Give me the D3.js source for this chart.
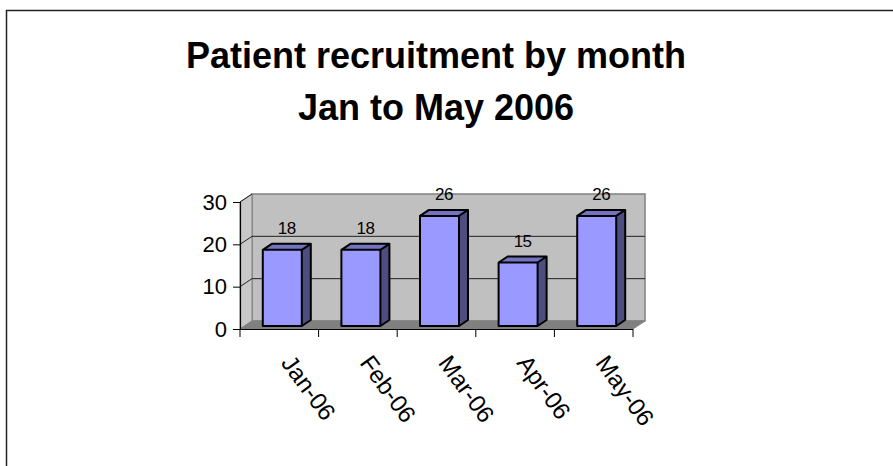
<!DOCTYPE html>
<html>
<head>
<meta charset="utf-8">
<script src="https://cdn.jsdelivr.net/npm/d3@7"></script>
<style>
  body { margin: 0; background: #fff; }
  text { font-family: Arial, "Liberation Sans", sans-serif; }
</style>
</head>
<body>
<div id="chart"></div>
<script>
// data
const months = ['Jan-06', 'Feb-06', 'Mar-06', 'Apr-06', 'May-06'];
const patients = [18, 18, 26, 15, 26];
const yTicks = [0, 10, 20, 30];
const titleLines = ['Patient recruitment by month', 'Jan to May 2006'];

const W = 893, H = 466;
// 3d depth of the plot box and of each bar
const dx = 12, dy = -8;
const bx = 3, by = -3;      // bar front offset from front plane
const bdx = 9, bdy = -6;    // bar depth

var svg = d3.select('#chart').append('svg')
  .attr('width', W)
  .attr('height', H);

// outer frame
svg.append('rect')
  .attr('x', 6.5).attr('y', 10.5)
  .attr('width', W + 20).attr('height', H + 20)
  .attr('fill', '#fff')
  .attr('stroke', '#222')
  .attr('stroke-width', 1.5);

// title
svg.append('g').selectAll('text')
  .data(titleLines)
  .enter().append('text')
  .attr('x', 436)
  .attr('y', (d, i) => 68 + i * 52)
  .attr('text-anchor', 'middle')
  .style('font-size', '36px')
  .style('font-weight', 'bold')
  .text(d => d);

var x = d3.scaleBand()
  .domain(months)
  .range([240, 633])
  .padding(0);

var y = d3.scaleLinear()
  .domain([0, 30])
  .range([329, 202]);

const x0 = x.range()[0], x1 = x.range()[1];
const pts = p => p.map(q => q.join(',')).join(' ');

// back wall
svg.append('polygon')
  .attr('points', pts([[x0 + dx, y(30) + dy], [x1 + dx, y(30) + dy], [x1 + dx, y(0) + dy], [x0 + dx, y(0) + dy]]))
  .attr('fill', '#c0c0c0')
  .attr('stroke', '#808080')
  .attr('stroke-width', 1.5);

// left side wall
svg.append('polygon')
  .attr('points', pts([[x0, y(0)], [x0, y(30)], [x0 + dx, y(30) + dy], [x0 + dx, y(0) + dy]]))
  .attr('fill', '#c8c8c8')
  .attr('stroke', '#808080')
  .attr('stroke-width', 1);

// floor
svg.append('polygon')
  .attr('points', pts([[x0, y(0)], [x1, y(0)], [x1 + dx, y(0) + dy], [x0 + dx, y(0) + dy]]))
  .attr('fill', '#808080')
  .attr('stroke', '#808080')
  .attr('stroke-width', 1);

// gridlines on back + side wall
var grid = svg.append('g');
grid.selectAll('.gb')
  .data(yTicks.filter(v => v > 0 && v < 30))
  .enter().append('line')
  .attr('x1', x0 + dx).attr('x2', x1 + dx)
  .attr('y1', d => y(d) + dy).attr('y2', d => y(d) + dy)
  .attr('stroke', '#222').attr('stroke-width', 1);
grid.selectAll('.gs')
  .data(yTicks.filter(v => v > 0))
  .enter().append('line')
  .attr('x1', x0).attr('x2', x0 + dx)
  .attr('y1', d => y(d)).attr('y2', d => y(d) + dy)
  .attr('stroke', '#222').attr('stroke-width', 1);

// y axis
var yAxis = svg.append('g')
  .attr('transform', 'translate(' + x0 + ',0)')
  .call(d3.axisLeft(y).tickValues(yTicks).tickSize(7).tickPadding(6));
yAxis.select('.domain').attr('stroke', '#000').attr('stroke-width', 1.2);
yAxis.selectAll('.tick line').attr('stroke', '#000');
yAxis.selectAll('.tick text')
  .style('font-size', '22px')
  .style('font-family', 'Arial, "Liberation Sans", sans-serif')
  .attr('fill', '#000');

// x axis line + ticks at band edges
var xAxis = svg.append('g');
xAxis.append('line')
  .attr('x1', x0).attr('x2', x1)
  .attr('y1', y(0) + 0.5).attr('y2', y(0) + 0.5)
  .attr('stroke', '#000').attr('stroke-width', 1.2);
xAxis.selectAll('.xt')
  .data(months.map(m => x(m)).concat([x1]))
  .enter().append('line')
  .attr('x1', d => d).attr('x2', d => d)
  .attr('y1', y(0)).attr('y2', y(0) + 8)
  .attr('stroke', '#000');
xAxis.selectAll('.xl')
  .data(months)
  .enter().append('text')
  .attr('transform', d => 'translate(' + (x(d) + x.bandwidth() / 2 + 1) + ',' + 363 + ') rotate(54)')
  .style('font-size', '24px')
  .text(d => d);

// bars
const bw = 39;
var bars = svg.append('g').selectAll('g')
  .data(months.map((m, i) => ({ month: m, value: patients[i] })))
  .enter().append('g');

const fx = d => x(d.month) + x.bandwidth() / 2 + bx - bw / 2;
const ft = d => y(d.value) + by;
const fb = d => y(0) + by;

// front
bars.append('polygon')
  .attr('points', d => pts([[fx(d), ft(d)], [fx(d) + bw, ft(d)], [fx(d) + bw, fb(d)], [fx(d), fb(d)]]))
  .attr('fill', '#9999ff');
// side
bars.append('polygon')
  .attr('points', d => pts([[fx(d) + bw, ft(d)], [fx(d) + bw + bdx, ft(d) + bdy], [fx(d) + bw + bdx, fb(d) + bdy], [fx(d) + bw, fb(d)]]))
  .attr('fill', '#4d4d80');
// top
bars.append('polygon')
  .attr('points', d => pts([[fx(d), ft(d)], [fx(d) + bdx, ft(d) + bdy], [fx(d) + bw + bdx, ft(d) + bdy], [fx(d) + bw, ft(d)]]))
  .attr('fill', '#7373bf');
// outline
bars.append('path')
  .attr('d', d => 'M' + fx(d) + ',' + fb(d) + 'V' + ft(d) + 'L' + (fx(d) + bdx) + ',' + (ft(d) + bdy)
    + 'H' + (fx(d) + bw + bdx) + 'V' + (fb(d) + bdy) + 'L' + (fx(d) + bw) + ',' + fb(d) + 'Z'
    + 'M' + fx(d) + ',' + ft(d) + 'H' + (fx(d) + bw) + 'V' + fb(d)
    + 'M' + (fx(d) + bw) + ',' + ft(d) + 'L' + (fx(d) + bw + bdx) + ',' + (ft(d) + bdy))
  .attr('fill', 'none')
  .attr('stroke', '#000')
  .attr('stroke-width', 2)
  .attr('stroke-linejoin', 'round');

// value labels
bars.append('text')
  .attr('x', d => fx(d) + (bw + bdx) / 2)
  .attr('y', d => ft(d) + bdy - 10)
  .attr('text-anchor', 'middle')
  .style('font-size', '17px')
  .style('letter-spacing', '-0.5px')
  .text(d => d.value);
</script>
</body>
</html>
